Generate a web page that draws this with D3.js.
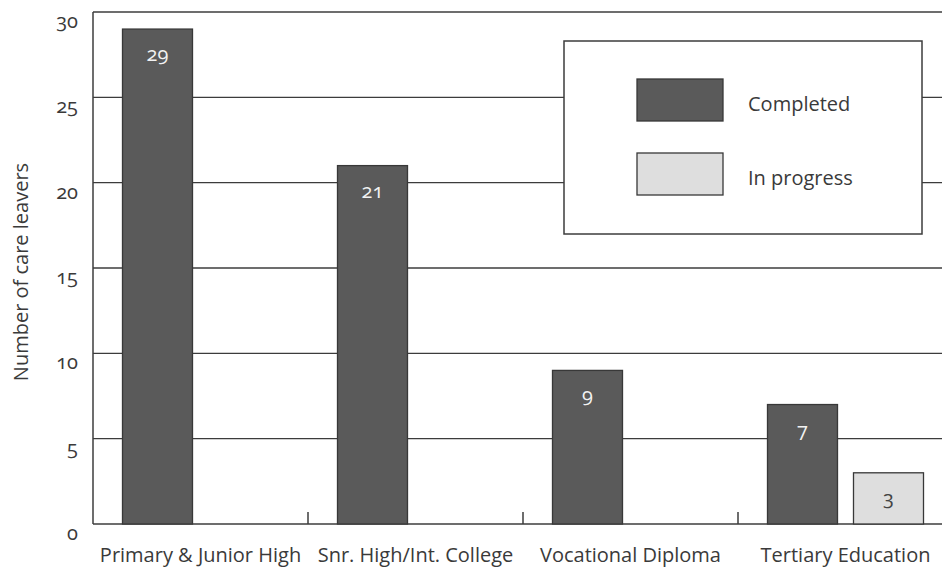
<!DOCTYPE html>
<html>
<head>
<meta charset="utf-8">
<script src="https://cdn.jsdelivr.net/npm/d3@7/dist/d3.min.js"></script>
<style>
  html, body { margin: 0; padding: 0; background: #fff; }
  svg { display: block; }
  text { font-family: "Open Sans", "Lato", sans-serif; fill: #3a3a3a; font-variant-numeric: oldstyle-nums; }
</style>
</head>
<body>
<svg id="chart" width="942" height="569"></svg>
<script>
const categories = ["Primary & Junior High", "Snr. High/Int. College", "Vocational Diploma", "Tertiary Education"];
const seriesNames = ["Completed", "In progress"];
const completed = [29, 21, 9, 7];
const inProgress = [null, null, null, 3];
const yTicks = [0, 5, 10, 15, 20, 25, 30];
const yLabel = "Number of care leavers";

const svg = d3.select("#chart");
const W = 942, H = 569;
const mLeft = 93, mTop = 12, mBottom = 524, plotRight = 953;

const x0 = d3.scaleBand().domain(categories).range([mLeft, plotRight]).paddingInner(0).paddingOuter(0);
const x1 = d3.scaleBand().domain(seriesNames).range([0, x0.bandwidth()]).paddingInner(0.186).paddingOuter(0.343);
const y = d3.scaleLinear().domain([0, 30]).range([mBottom, mTop]);
const fills = {"Completed": "#5a5a5a", "In progress": "#dedede"};
const labelFill = {"Completed": "#f2f2f2", "In progress": "#444"};

const lineColor = "#3c3c3c";

// gridlines
svg.append("g")
  .selectAll("line").data(yTicks.filter(t => t > 0))
  .join("line")
  .attr("x1", mLeft).attr("x2", W)
  .attr("y1", d => y(d)).attr("y2", d => y(d))
  .attr("stroke", lineColor).attr("stroke-width", 1.4);

// left axis line
svg.append("line").attr("x1", mLeft).attr("x2", mLeft).attr("y1", mTop).attr("y2", mBottom)
  .attr("stroke", lineColor).attr("stroke-width", 1.5);
// bottom axis line
svg.append("line").attr("x1", mLeft).attr("x2", W).attr("y1", mBottom).attr("y2", mBottom)
  .attr("stroke", lineColor).attr("stroke-width", 1.5);

// y tick labels
svg.append("g").selectAll("text").data(yTicks).join("text")
  .attr("x", 78).attr("y", d => y(d) + 16)
  .attr("text-anchor", "end")
  .attr("font-size", 20)
  .text(d => d);

// y label
svg.append("text")
  .attr("transform", `translate(28, ${(mTop + mBottom) / 2 + 4}) rotate(-90)`)
  .attr("text-anchor", "middle")
  .attr("font-size", 20)
  .text(yLabel);

// x tick marks at band boundaries
svg.append("g").selectAll("line").data(categories.slice(1)).join("line")
  .attr("x1", d => x0(d)).attr("x2", d => x0(d))
  .attr("y1", mBottom).attr("y2", mBottom - 12)
  .attr("stroke", lineColor).attr("stroke-width", 1.5);

// x labels
svg.append("g").selectAll("text").data(categories).join("text")
  .attr("x", d => x0(d) + x0.bandwidth() / 2)
  .attr("y", 562)
  .attr("text-anchor", "middle")
  .attr("font-size", 20)
  .text(d => d);

// bars
const rows = [];
categories.forEach((c, i) => {
  if (completed[i] != null) rows.push({cat: c, s: "Completed", v: completed[i]});
  if (inProgress[i] != null) rows.push({cat: c, s: "In progress", v: inProgress[i]});
});

const bars = svg.append("g");
bars.selectAll("rect").data(rows).join("rect")
  .attr("x", d => x0(d.cat) + x1(d.s))
  .attr("y", d => y(d.v))
  .attr("width", x1.bandwidth())
  .attr("height", d => y(0) - y(d.v))
  .attr("fill", d => fills[d.s])
  .attr("stroke", "#383838").attr("stroke-width", 1.3);

bars.selectAll("text").data(rows).join("text")
  .attr("x", d => x0(d.cat) + x1(d.s) + x1.bandwidth() / 2)
  .attr("y", d => y(d.v) + 32)
  .attr("text-anchor", "middle")
  .attr("font-size", 20)
  .style("fill", d => labelFill[d.s])
  .text(d => d.v);

// legend
const lg = svg.append("g");
lg.append("rect").attr("x", 564).attr("y", 41).attr("width", 358).attr("height", 193)
  .attr("fill", "#fff").attr("stroke", lineColor).attr("stroke-width", 1.5);
seriesNames.forEach((s, i) => {
  const yy = 79 + i * 74;
  lg.append("rect").attr("x", 637).attr("y", yy).attr("width", 86).attr("height", 42)
    .attr("fill", fills[s]).attr("stroke", "#383838").attr("stroke-width", 1.3);
  lg.append("text").attr("x", 748).attr("y", yy + 32)
    .attr("font-size", 20).text(s);
});
</script>
</body>
</html>
